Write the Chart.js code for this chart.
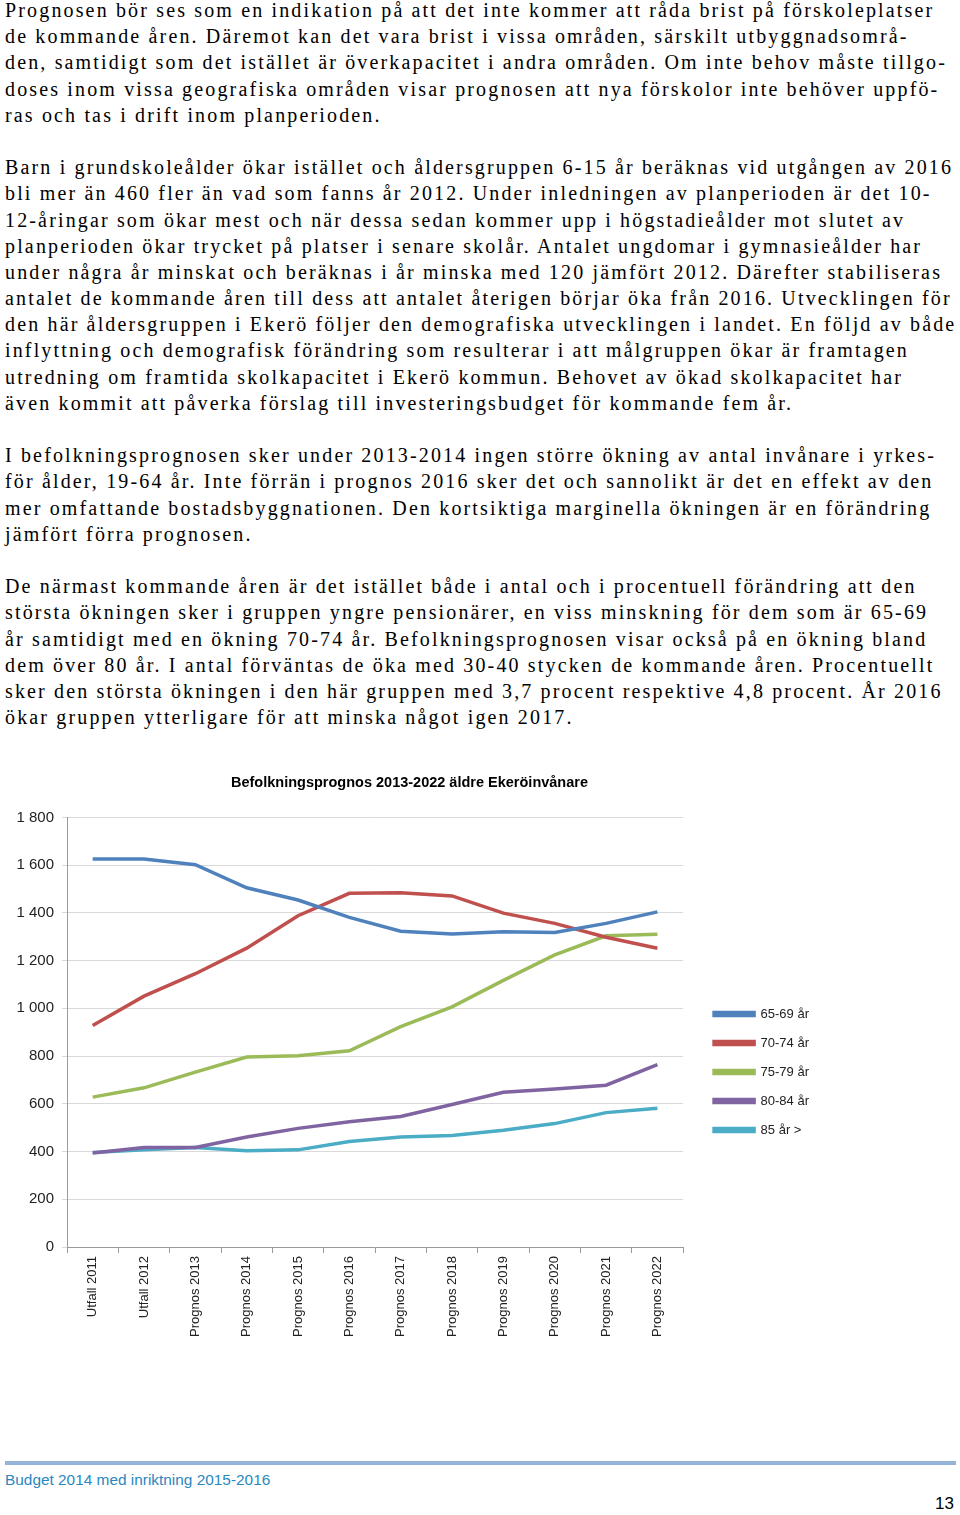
<!DOCTYPE html>
<html lang="sv">
<head>
<meta charset="utf-8">
<script src="https://cdn.jsdelivr.net/npm/chart.js@4/dist/chart.umd.min.js"></script>
<style>
  html, body { margin: 0; padding: 0; background: #fff; }
  body { width: 960px; height: 1515px; position: relative; overflow: hidden; }
  #text {
    position: absolute; left: 5px; top: -3px; width: 955px;
    font-family: "Liberation Serif", "DejaVu Serif", serif;
    font-size: 20px; line-height: 26.2px; letter-spacing: 2.15px;
    color: #000; white-space: nowrap;
  }
  #text div { height: 26.2px; }
  #chartBox { position: absolute; left: 0; top: 765px; width: 819px; height: 614px; }
  #rule { position: absolute; left: 5px; top: 1461px; width: 951px; height: 4px; background: #95B3D7; }
  #foot { position: absolute; left: 5px; top: 1471px; font-family: "Liberation Sans", Arial, sans-serif; font-size: 15.4px; color: #2A88C0; }
  #page { position: absolute; left: 935px; top: 1494px; font-family: "Liberation Sans", Arial, sans-serif; font-size: 17px; color: #000; }
</style>
</head>
<body>
<div id="text">
<div>Prognosen bör ses som en indikation på att det inte kommer att råda brist på förskoleplatser</div>
<div>de kommande åren. Däremot kan det vara brist i vissa områden, särskilt utbyggnadsområ-</div>
<div>den, samtidigt som det istället är överkapacitet i andra områden. Om inte behov måste tillgo-</div>
<div>doses inom vissa geografiska områden visar prognosen att nya förskolor inte behöver uppfö-</div>
<div>ras och tas i drift inom planperioden.</div>
<div></div>
<div>Barn i grundskoleålder ökar istället och åldersgruppen 6-15 år beräknas vid utgången av 2016</div>
<div>bli mer än 460 fler än vad som fanns år 2012. Under inledningen av planperioden är det 10-</div>
<div>12-åringar som ökar mest och när dessa sedan kommer upp i högstadieålder mot slutet av</div>
<div>planperioden ökar trycket på platser i senare skolår. Antalet ungdomar i gymnasieålder har</div>
<div>under några år minskat och beräknas i år minska med 120 jämfört 2012. Därefter stabiliseras</div>
<div>antalet de kommande åren till dess att antalet återigen börjar öka från 2016. Utvecklingen för</div>
<div>den här åldersgruppen i Ekerö följer den demografiska utvecklingen i landet. En följd av både</div>
<div>inflyttning och demografisk förändring som resulterar i att målgruppen ökar är framtagen</div>
<div>utredning om framtida skolkapacitet i Ekerö kommun. Behovet av ökad skolkapacitet har</div>
<div>även kommit att påverka förslag till investeringsbudget för kommande fem år.</div>
<div></div>
<div>I befolkningsprognosen sker under 2013-2014 ingen större ökning av antal invånare i yrkes-</div>
<div>för ålder, 19-64 år. Inte förrän i prognos 2016 sker det och sannolikt är det en effekt av den</div>
<div>mer omfattande bostadsbyggnationen. Den kortsiktiga marginella ökningen är en förändring</div>
<div>jämfört förra prognosen.</div>
<div></div>
<div>De närmast kommande åren är det istället både i antal och i procentuell förändring att den</div>
<div>största ökningen sker i gruppen yngre pensionärer, en viss minskning för dem som är 65-69</div>
<div>år samtidigt med en ökning 70-74 år. Befolkningsprognosen visar också på en ökning bland</div>
<div>dem över 80 år. I antal förväntas de öka med 30-40 stycken de kommande åren. Procentuellt</div>
<div>sker den största ökningen i den här gruppen med 3,7 procent respektive 4,8 procent. År 2016</div>
<div>ökar gruppen ytterligare för att minska något igen 2017.</div>
</div>

<div id="chartBox"><canvas id="c"></canvas></div>
<div id="rule"></div>
<div id="foot">Budget 2014 med inriktning 2015-2016</div>
<div id="page">13</div>

<script>
const categories = ['Utfall 2011','Utfall 2012','Prognos 2013','Prognos 2014','Prognos 2015','Prognos 2016','Prognos 2017','Prognos 2018','Prognos 2019','Prognos 2020','Prognos 2021','Prognos 2022'];
const age65_69 = [1626, 1626, 1602, 1505, 1454, 1381, 1323, 1311, 1321, 1318, 1356, 1404];
const age70_74 = [928, 1051, 1145, 1252, 1388, 1482, 1484, 1471, 1399, 1356, 1298, 1252];
const age75_79 = [628, 667, 733, 796, 801, 822, 923, 1006, 1117, 1224, 1304, 1310];
const age80_84 = [394, 417, 417, 461, 497, 525, 547, 597, 648, 662, 678, 764];
const age85plus = [396, 407, 417, 403, 407, 442, 461, 467, 489, 517, 563, 581];
const seriesNames = ['65-69 år', '70-74 år', '75-79 år', '80-84 år', '85 år >'];
const yTicks = [0, 200, 400, 600, 800, 1000, 1200, 1400, 1600, 1800];
const chartTitle = 'Befolkningsprognos 2013-2022 äldre Ekeröinvånare';

const colors = ['#4F81BD', '#C0504D', '#9BBB59', '#8064A2', '#4BACC6'];
const seriesData = [age65_69, age70_74, age75_79, age80_84, age85plus];

const datasets = seriesData.map((d, i) => ({
  label: seriesNames[i],
  data: d,
  borderColor: colors[i],
  backgroundColor: colors[i],
  borderWidth: 3.5,
  pointRadius: 0,
  tension: 0,
  fill: false
}));

const fmt = v => {
  const s = String(v);
  return s.length > 3 ? s.slice(0, s.length - 3) + ' ' + s.slice(-3) : s;
};

new Chart(document.getElementById('c'), {
  type: 'line',
  data: { labels: categories, datasets },
  options: {
    responsive: true,
    maintainAspectRatio: false,
    animation: false,
    layout: { padding: { left: 0, right: 0, top: 0, bottom: 0 } },
    plugins: {
      title: {
        display: true,
        text: chartTitle,
        color: '#000',
        font: { family: 'Liberation Sans', size: 14.5, weight: 'bold' },
        padding: { top: 9, bottom: 26 }
      },
      legend: {
        position: 'right',
        labels: {
          boxWidth: 40,
          boxHeight: 3,
          padding: 16,
          color: '#222',
          font: { family: 'Liberation Sans', size: 13 }
        }
      },
      tooltip: { enabled: false }
    },
    scales: {
      x: {
        offset: true,
        grid: { display: true, drawOnChartArea: false, drawTicks: true, tickLength: 6, offset: true, color: '#9a9a9a' },
        border: { color: '#9a9a9a', width: 1 },
        ticks: {
          autoSkip: false, maxRotation: 90, minRotation: 90, padding: 3,
          color: '#222', font: { family: 'Liberation Sans', size: 13 }
        },
        afterFit: s => { s.height = 132; }
      },
      y: {
        min: 0, max: 1800,
        afterBuildTicks: s => { s.ticks = yTicks.map(v => ({ value: v })); },
        grid: { color: '#d9d9d9', drawTicks: true, tickLength: 5 },
        border: { color: '#9a9a9a', width: 1 },
        ticks: {
          padding: 8, color: '#222',
          font: { family: 'Liberation Sans', size: 15 },
          callback: v => fmt(v)
        },
        afterFit: s => { s.width = 67; }
      },
      gap: {
        position: 'right',
        display: true,
        grid: { display: false, drawTicks: false },
        border: { display: false },
        ticks: { display: false },
        afterFit: s => { s.width = 15; }
      }
    }
  }
});
</script>
</body>
</html>
